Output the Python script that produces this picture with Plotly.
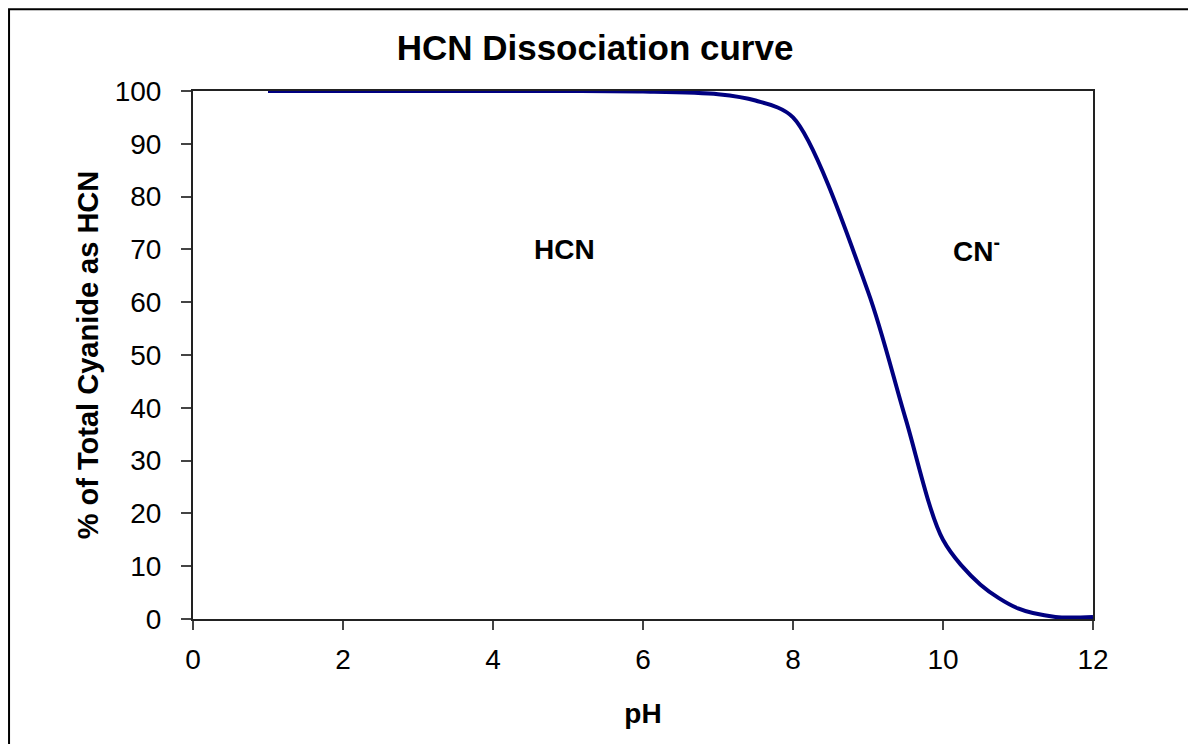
import plotly.graph_objects as go

# pH values and % of total cyanide present as HCN
ph = [1, 2, 3, 4, 5, 6, 7, 7.5, 8, 9, 9.5, 10, 10.5, 11, 11.5, 12]
pct_hcn = [100, 100, 100, 100, 100, 99.9, 99.4, 98.2, 95, 62, 38, 15, 6.5, 2, 0.4, 0.4]

x_ticks = [0, 2, 4, 6, 8, 10, 12]
y_ticks = [0, 10, 20, 30, 40, 50, 60, 70, 80, 90, 100]

font = "Liberation Sans, Arial, sans-serif"

fig = go.Figure()
fig.add_trace(go.Scatter(x=ph, y=pct_hcn, mode="lines",
                         line=dict(color="#000080", width=4, shape="spline", smoothing=0.85),
                         showlegend=False))

fig.add_annotation(x=4.95, y=70, text="<b>HCN</b>", showarrow=False,
                   font=dict(family=font, size=28, color="black"))
fig.add_annotation(x=10.44, y=70, text="<b>CN<sup>-</sup></b>", showarrow=False,
                   font=dict(family=font, size=28, color="black"))

# outer frame of the original picture (cropped on right and bottom)
fig.add_shape(type="rect", xref="paper", yref="paper",
              x0=-0.2044, x1=1.2, y0=-0.3, y1=1.155,
              line=dict(color="black", width=2), layer="below")

fig.update_layout(
    width=1196, height=744,
    margin=dict(l=185, r=111, t=83, b=133, autoexpand=False),
    paper_bgcolor="white", plot_bgcolor="white",
    font=dict(family=font, size=28, color="black"),
    title=dict(text="<b>HCN Dissociation curve</b>", x=0.4467, xref="paper", xanchor="center",
               y=1 - 40 / 744, yanchor="middle", font=dict(size=35)),
    xaxis=dict(range=[0, 12], tickvals=x_ticks, ticks="outside", ticklen=9, tickwidth=2,
               showline=True, linecolor="#222", linewidth=2, mirror=True, showgrid=False,
               zeroline=False, ticklabelstandoff=5,
               title=dict(text="<b>pH</b>", standoff=30, font=dict(size=28))),
    yaxis=dict(range=[0, 100], tickvals=y_ticks, ticks="outside", ticklen=10, tickwidth=2,
               showline=True, linecolor="#222", linewidth=2, mirror=True, showgrid=False,
               zeroline=False, ticklabelstandoff=14,
               title=dict(text="<b>% of Total Cyanide as HCN</b>", standoff=8, font=dict(size=29))),
)

fig.write_html("out.html")
